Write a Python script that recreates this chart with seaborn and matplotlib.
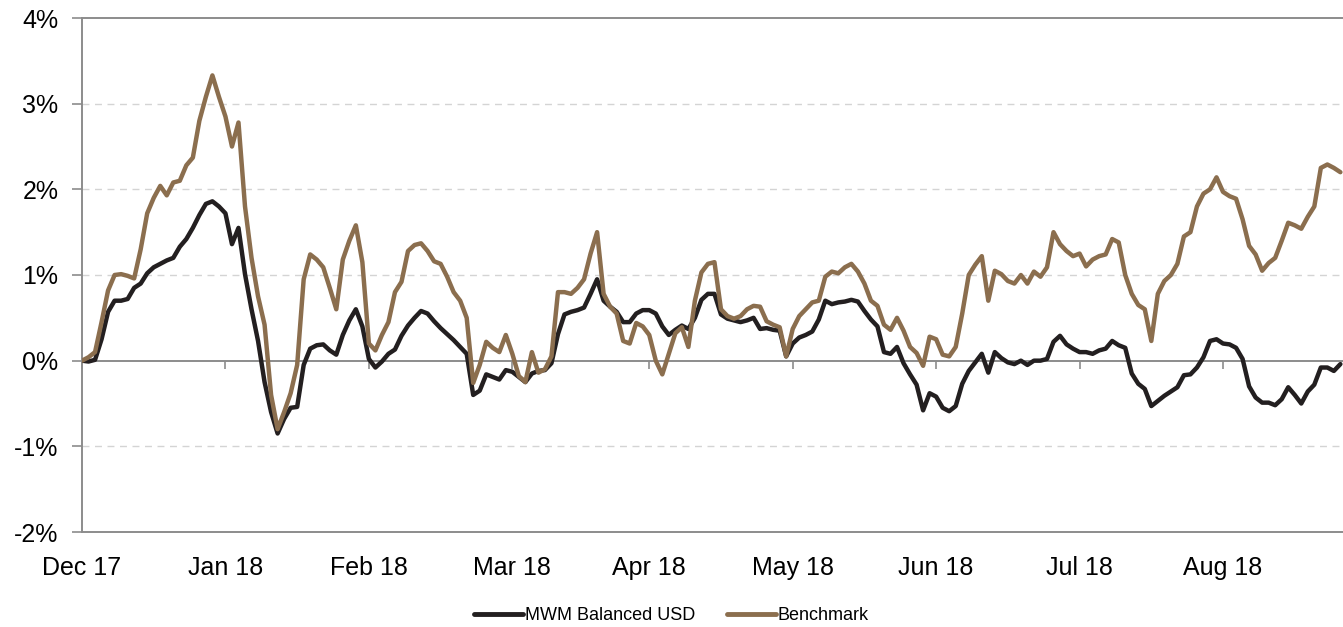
import numpy as np
import pandas as pd
import matplotlib
matplotlib.use('Agg')
import matplotlib.pyplot as plt
import seaborn as sns

# Data: cumulative return (%) per trading day
month_labels = ['Dec 17', 'Jan 18', 'Feb 18', 'Mar 18', 'Apr 18',
                'May 18', 'Jun 18', 'Jul 18', 'Aug 18']
month_start_day = [0, 22, 44, 66, 87, 109, 131, 153, 175]

mwm_balanced_usd = [
    0.00, -0.01, 0.01, 0.25, 0.57, 0.70, 0.70, 0.72, 0.85, 0.90,
    1.02, 1.09, 1.13, 1.17, 1.20, 1.33, 1.42, 1.55, 1.70, 1.83,
    1.86, 1.80, 1.72, 1.36, 1.55, 1.01, 0.60, 0.23, -0.25, -0.60,
    -0.85, -0.68, -0.55, -0.54, -0.05, 0.14, 0.18, 0.19, 0.12, 0.07,
    0.30, 0.47, 0.60, 0.40, 0.02, -0.08, -0.01, 0.08, 0.13, 0.29,
    0.41, 0.50, 0.58, 0.55, 0.46, 0.38, 0.31, 0.24, 0.16, 0.08,
    -0.40, -0.35, -0.16, -0.19, -0.22, -0.11, -0.13, -0.19, -0.25, -0.15,
    -0.12, -0.11, -0.03, 0.31, 0.54, 0.57, 0.59, 0.62, 0.78, 0.95,
    0.70, 0.63, 0.57, 0.45, 0.45, 0.55, 0.59, 0.59, 0.55, 0.40,
    0.30, 0.36, 0.41, 0.37, 0.50, 0.71, 0.78, 0.78, 0.54, 0.49,
    0.47, 0.45, 0.47, 0.50, 0.37, 0.38, 0.36, 0.35, 0.05, 0.20,
    0.27, 0.30, 0.34, 0.48, 0.70, 0.66, 0.68, 0.69, 0.71, 0.69,
    0.58, 0.48, 0.40, 0.10, 0.08, 0.16, -0.03, -0.16, -0.28, -0.58,
    -0.38, -0.42, -0.55, -0.59, -0.53, -0.27, -0.12, -0.02, 0.08, -0.14,
    0.10, 0.03, -0.02, -0.04, 0.00, -0.05, 0.00, 0.00, 0.02, 0.22,
    0.29, 0.19, 0.14, 0.10, 0.10, 0.08, 0.12, 0.14, 0.23, 0.18,
    0.15, -0.15, -0.27, -0.33, -0.53, -0.47, -0.41, -0.36, -0.31, -0.17,
    -0.16, -0.08, 0.04, 0.23, 0.25, 0.20, 0.19, 0.15, 0.02, -0.30,
    -0.43, -0.49, -0.49, -0.52, -0.45, -0.31, -0.40, -0.50, -0.36, -0.28,
    -0.08, -0.08, -0.12, -0.04,
]

benchmark = [
    0.00, 0.04, 0.10, 0.45, 0.82, 1.00, 1.01, 0.99, 0.96, 1.30,
    1.72, 1.90, 2.04, 1.93, 2.08, 2.10, 2.28, 2.37, 2.80, 3.08,
    3.33, 3.08, 2.85, 2.50, 2.78, 1.80, 1.20, 0.75, 0.42, -0.40,
    -0.80, -0.60, -0.38, -0.05, 0.95, 1.24, 1.18, 1.09, 0.85, 0.60,
    1.18, 1.40, 1.58, 1.15, 0.20, 0.12, 0.30, 0.45, 0.80, 0.92,
    1.28, 1.35, 1.37, 1.28, 1.16, 1.13, 0.98, 0.80, 0.70, 0.50,
    -0.26, -0.05, 0.22, 0.15, 0.10, 0.30, 0.08, -0.18, -0.25, 0.10,
    -0.14, -0.10, 0.05, 0.80, 0.80, 0.78, 0.85, 0.95, 1.25, 1.50,
    0.78, 0.63, 0.55, 0.23, 0.20, 0.44, 0.40, 0.30, 0.00, -0.16,
    0.08, 0.32, 0.39, 0.16, 0.70, 1.03, 1.13, 1.15, 0.60, 0.52,
    0.49, 0.52, 0.60, 0.64, 0.63, 0.46, 0.42, 0.39, 0.05, 0.37,
    0.52, 0.60, 0.68, 0.70, 0.98, 1.04, 1.02, 1.09, 1.13, 1.04,
    0.90, 0.70, 0.64, 0.42, 0.36, 0.50, 0.35, 0.16, 0.09, -0.06,
    0.28, 0.25, 0.07, 0.05, 0.16, 0.55, 1.00, 1.12, 1.22, 0.70,
    1.05, 1.01, 0.93, 0.90, 1.00, 0.90, 1.04, 0.98, 1.09, 1.50,
    1.36, 1.28, 1.22, 1.25, 1.10, 1.18, 1.22, 1.24, 1.42, 1.38,
    1.00, 0.78, 0.65, 0.60, 0.23, 0.78, 0.93, 1.00, 1.13, 1.45,
    1.50, 1.80, 1.95, 2.00, 2.14, 1.97, 1.92, 1.89, 1.65, 1.34,
    1.24, 1.05, 1.14, 1.20, 1.40, 1.61, 1.58, 1.54, 1.68, 1.80,
    2.25, 2.29, 2.25, 2.20,
]

days = np.arange(len(benchmark))
df = pd.concat([
    pd.DataFrame({'Day': days, 'Return': mwm_balanced_usd, 'Series': 'MWM Balanced USD'}),
    pd.DataFrame({'Day': days, 'Return': benchmark, 'Series': 'Benchmark'}),
])

sns.set_theme(style='white')
plt.rcParams['font.family'] = ['Liberation Sans', 'DejaVu Sans']
plt.rcParams['text.color'] = 'black'
plt.rcParams['xtick.color'] = 'black'
plt.rcParams['ytick.color'] = 'black'

axis_grey = '#8c8c8c'
palette = {'MWM Balanced USD': '#231f20', 'Benchmark': '#8b6e4e'}

fig = plt.figure(figsize=(13.43, 6.27), dpi=100)
ax = fig.add_axes([82 / 1343, 95 / 627, 1261 / 1343, 514 / 627])

# Gridlines and zero line
for level in [-1, 1, 2, 3]:
    ax.axhline(level, color='#d4d4d4', lw=1, ls=(0, (5, 4)), zorder=0)
ax.axhline(0, color=axis_grey, lw=1.4, zorder=1)

sns.lineplot(data=df, x='Day', y='Return', hue='Series', palette=palette,
             linewidth=3.2, ax=ax, legend=True, zorder=3)

ax.set_xlim(0, 193.4)
ax.set_ylim(-2, 4)
ax.set_yticks(range(-2, 5))
ax.set_yticklabels([f'{v}%' for v in range(-2, 5)])
ax.set_xticks(month_start_day)
ax.set_xticklabels(month_labels)
ax.set_xlabel('')
ax.set_ylabel('')

ax.tick_params(axis='y', length=7, width=1.2, color=axis_grey, labelcolor='black',
               labelsize=18, pad=10, left=True, direction='out')
ax.tick_params(axis='x', length=0, labelsize=18, labelcolor='black', pad=17)
for side in ['left', 'top', 'bottom']:
    ax.spines[side].set_color(axis_grey)
    ax.spines[side].set_linewidth(1.4)
ax.spines['right'].set_visible(False)

# Small month ticks hanging below the 0% line
zero_axis = ax.secondary_xaxis(1 / 3)
zero_axis.set_xticks(month_start_day, labels=[''] * len(month_start_day))
zero_axis.tick_params(length=6, width=1.2, color=axis_grey)
zero_axis.spines['bottom'].set_visible(False)
zero_axis.spines['top'].set_visible(False)

handles, labels = ax.get_legend_handles_labels()
ax.get_legend().remove()
leg = fig.legend(handles, labels, loc='center', bbox_to_anchor=(0.5, 0.018),
                 ncol=2, frameon=False, fontsize=13, handlelength=2.7,
                 handletextpad=0.1, columnspacing=1.8, labelcolor='black')
for h in leg.get_lines():
    h.set_linewidth(3.5)
    h.set_solid_capstyle('round')

fig.savefig('out.png', dpi=100)
